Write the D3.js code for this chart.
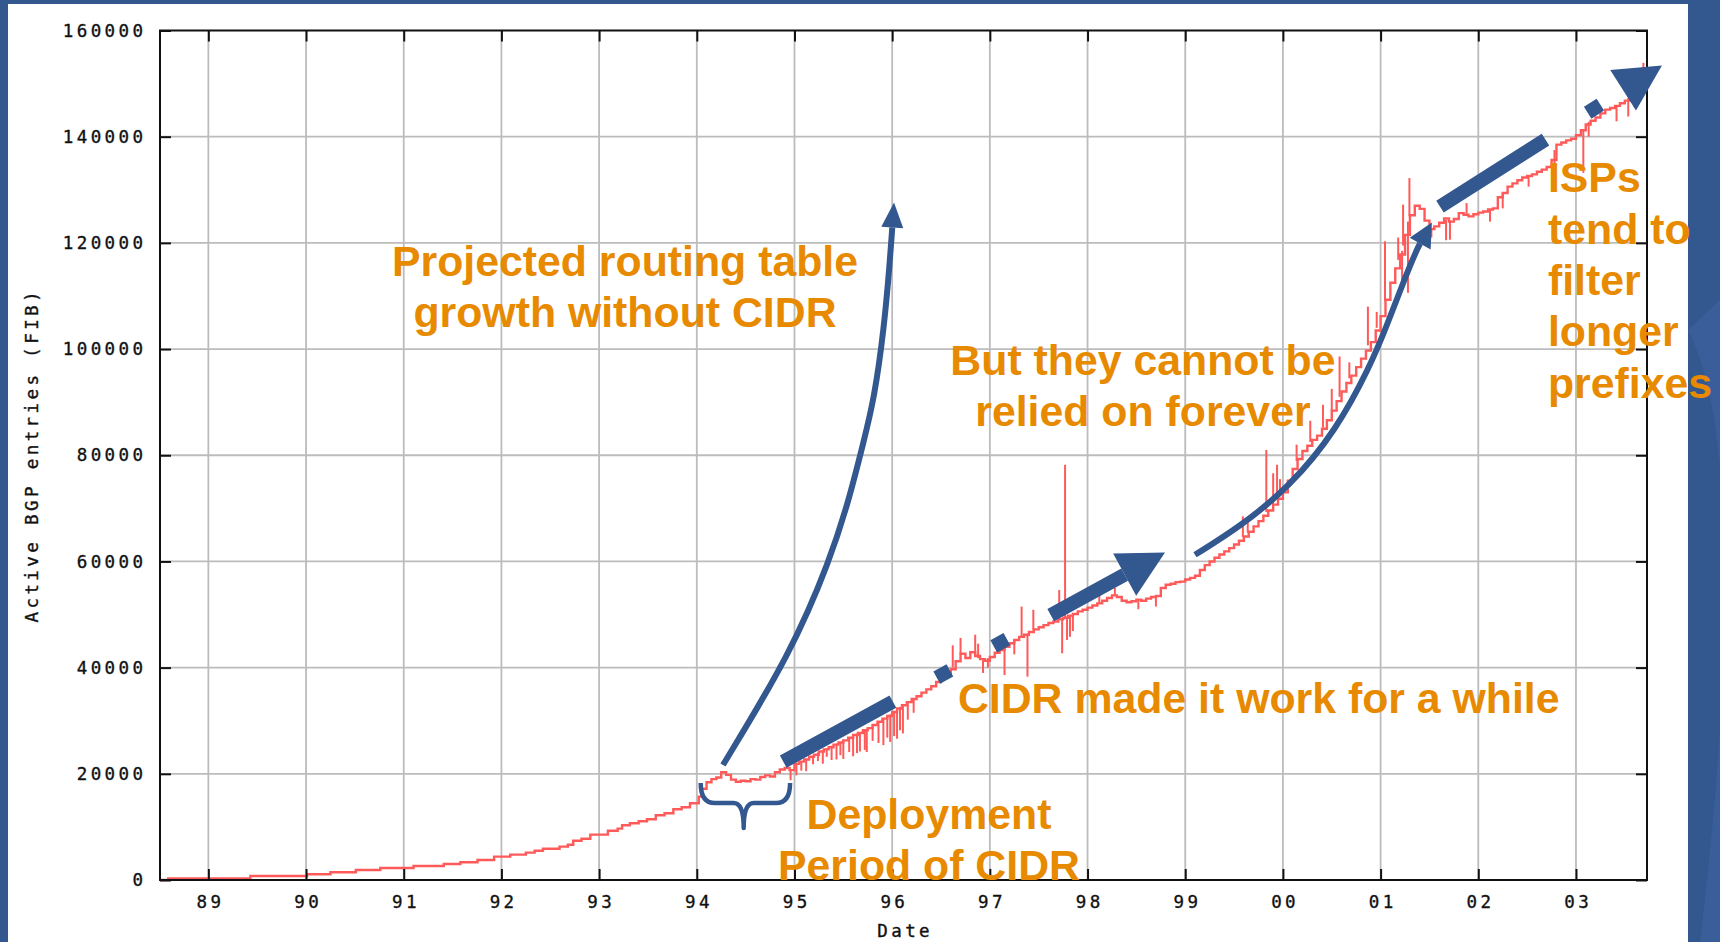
<!DOCTYPE html>
<html><head><meta charset="utf-8">
<script src="https://cdn.jsdelivr.net/npm/d3@7"></script>
<style>
html,body{margin:0;padding:0;background:#33578f;overflow:hidden}
svg{display:block}
</style>
</head><body>
<svg id="chart" width="1720" height="942"></svg>
<script>
// ---------------- DATA ----------------
const yearTicks = [1989,1990,1991,1992,1993,1994,1995,1996,1997,1998,1999,2000,2001,2002,2003];
const yearTickLabels = ["89","90","91","92","93","94","95","96","97","98","99","00","01","02","03"];
const valueTicks = [0,20000,40000,60000,80000,100000,120000,140000,160000];
const valueTickLabels = ["0","20000","40000","60000","80000","100000","120000","140000","160000"];

// early period: step growth (decimal year, active BGP entries)
const stepSeries = [
 [1988.505,0],[1988.59,300],[1989.43,750],[1990.01,1070],[1990.25,1450],[1990.51,1880],
 [1990.76,2260],[1991.10,2640],[1991.41,3020],[1991.58,3330],[1991.755,3770],[1991.925,4400],
 [1992.09,4770],[1992.25,5150],[1992.34,5520],[1992.425,5900],[1992.595,6280],[1992.68,6650],
 [1992.735,7400],[1992.82,7780],[1992.91,8540],[1993.09,9290],[1993.19,9670],[1993.235,10300],
 [1993.315,10680],[1993.405,11060],[1993.49,11440],[1993.58,12190],[1993.67,12570],[1993.76,13320],
 [1993.845,13700],[1993.93,14450],[1994.02,15700]
];

// later period: sampled table size
const bgpSeries = [
 [1994.05,17200],[1994.10,18400],[1994.15,19000],[1994.20,19300],[1994.25,20300],[1994.30,19800],
 [1994.35,18900],[1994.40,18500],[1994.45,18700],[1994.50,18600],[1994.55,19000],[1994.60,18900],
 [1994.65,19400],[1994.70,19700],[1994.75,19500],[1994.80,20300],[1994.85,20800],[1994.90,21100],
 [1994.95,20700],[1995.00,21900],[1995.05,22300],[1995.10,22700],[1995.15,23200],[1995.20,23600],
 [1995.25,24200],[1995.30,24600],[1995.35,25000],[1995.40,25500],[1995.45,25900],[1995.50,26300],
 [1995.55,26800],[1995.60,27300],[1995.65,27700],[1995.70,28200],[1995.75,28600],[1995.80,29200],
 [1995.85,29800],[1995.90,30400],[1995.95,30900],[1996.00,31600],[1996.05,32300],[1996.10,32900],
 [1996.15,33500],[1996.20,34100],[1996.25,34600],[1996.30,35300],[1996.35,35900],[1996.40,36500],
 [1996.45,37300],[1996.50,38000],[1996.55,38900],[1996.60,39700],[1996.65,41200],[1996.70,42600],
 [1996.75,41800],[1996.80,42900],[1996.85,42200],[1996.90,41600],[1996.95,41300],[1997.00,42000],
 [1997.05,42800],[1997.10,43300],[1997.15,43900],[1997.20,44600],[1997.25,45200],[1997.30,45800],
 [1997.35,46200],[1997.40,46700],[1997.45,47200],[1997.50,47600],[1997.55,48000],[1997.60,48400],
 [1997.65,48700],[1997.70,49100],[1997.75,49400],[1997.80,49800],[1997.85,50100],[1997.90,50600],
 [1997.95,50900],[1998.00,51300],[1998.05,51700],[1998.10,52100],[1998.15,52600],[1998.20,53100],
 [1998.25,53600],[1998.30,53300],[1998.35,52600],[1998.40,52300],[1998.45,52500],[1998.50,52800],
 [1998.55,52600],[1998.60,53000],[1998.65,53300],[1998.70,53500],[1998.75,55000],[1998.80,55600],
 [1998.85,55800],[1998.90,56100],[1998.95,56200],[1999.00,56600],[1999.05,56900],[1999.10,57300],
 [1999.15,58400],[1999.20,59300],[1999.25,60000],[1999.30,60700],[1999.35,61300],[1999.40,61900],
 [1999.45,62500],[1999.50,63200],[1999.55,63900],[1999.60,64700],[1999.65,65600],[1999.70,66600],
 [1999.75,67600],[1999.80,68600],[1999.85,69600],[1999.90,70700],[1999.95,71800],[2000.00,73000],
 [2000.05,75200],[2000.10,77400],[2000.15,79300],[2000.20,80800],[2000.25,81800],[2000.30,82900],
 [2000.35,83700],[2000.40,85000],[2000.45,86600],[2000.50,88400],[2000.55,90200],[2000.60,92000],
 [2000.65,93600],[2000.70,95000],[2000.75,96600],[2000.80,98200],[2000.85,99700],[2000.90,101300],
 [2000.95,103500],[2001.00,106200],[2001.05,109300],[2001.10,112500],[2001.15,115200],[2001.20,117800],
 [2001.25,121500],[2001.30,125200],[2001.35,127000],[2001.40,126400],[2001.45,124200],[2001.50,122600],
 [2001.55,123100],[2001.60,123800],[2001.65,124600],[2001.70,124000],[2001.75,124500],[2001.80,125600],
 [2001.85,125300],[2001.90,125000],[2001.95,125400],[2002.00,125700],[2002.05,125900],[2002.10,126300],
 [2002.15,126500],[2002.20,128600],[2002.25,129400],[2002.30,130600],[2002.35,131200],[2002.40,131800],
 [2002.45,132300],[2002.50,132600],[2002.55,132900],[2002.60,133400],[2002.65,133800],[2002.70,134300],
 [2002.75,135600],[2002.80,138500],[2002.85,138900],[2002.90,139300],[2002.95,139600],[2003.00,140300],
 [2003.05,141200],[2003.10,142300],[2003.15,143000],[2003.20,143600],[2003.25,144400],[2003.30,145100],
 [2003.35,145400],[2003.40,145800],[2003.45,146300],[2003.50,146800],[2003.55,147500],[2003.60,148600],
 [2003.65,150400],[2003.70,151200],[2003.72,151500]
];

// short-lived outliers: [year, from, to]
const spikes = [
 [1994.96,20800,18800],[1995.02,21900,19700],[1995.07,22400,20600],
 [1995.12,22800,20500],[1995.19,23400,21800],[1995.24,24000,22400],[1995.29,24400,21900],
 [1995.33,24800,23200],[1995.38,25300,22600],[1995.43,25700,22700],[1995.47,26000,23500],
 [1995.50,26300,22800],[1995.56,26800,24100],[1995.60,27300,23300],[1995.64,27600,23900],
 [1995.67,27800,24200],[1995.72,28300,24500],[1995.74,28500,24100],[1995.80,29200,26200],
 [1995.86,29800,25800],[1995.91,30400,25400],[1995.95,30900,26800],[1995.98,31200,26000],
 [1996.02,31900,27100],[1996.05,32300,26600],[1996.08,32600,28200],[1996.11,32900,27600],
 [1996.16,33500,30200],[1996.22,34200,31500],
 [1996.62,40000,44200],[1996.70,42600,45600],[1996.85,42200,46200],[1996.88,41800,44500],
 [1996.93,41400,39000],[1996.98,41800,40000],[1997.15,43900,38600],
 [1997.25,45200,42500],[1997.325,45900,51500],[1997.385,46400,38300],[1997.445,47100,50900],
 [1997.71,49100,54600],[1997.74,49300,42700],[1997.77,49500,78200],[1997.79,49600,45200],
 [1997.82,49900,45800],[1997.85,50100,46900],
 [1998.12,52200,54300],[1998.28,53500,55000],[1998.52,52800,51000],[1998.70,53500,51500],
 [1999.59,64600,68500],[1999.64,65400,67800],[1999.83,69300,81000],[1999.90,70700,76600],
 [1999.94,71600,78200],[1999.97,72300,75500],
 [2000.14,78900,82000],[2000.28,82500,86500],[2000.41,85200,89500],[2000.50,88400,92500],
 [2000.58,91000,98600],[2000.68,94500,97500],[2000.87,100700,108000],[2000.96,104000,107000],
 [2001.045,109000,120300],[2001.18,116800,121000],[2001.22,118500,112000],[2001.23,119500,127200],
 [2001.28,124000,110600],[2001.295,125000,132200],
 [2001.52,122800,121000],[2001.67,124300,120500],[2001.71,124200,120600],[2001.88,125200,127500],
 [2002.12,126400,124000],[2002.25,129300,126500],[2002.515,132700,130600],[2002.78,137500,134200],
 [2003.075,141300,133200],[2003.13,142800,140000],[2003.415,145700,142900],[2003.535,147300,143800],
 [2003.60,148600,145500],[2003.69,151000,153900]
];

// annotation geometry in data space (decimal year, entries)
const projectedArrow = [[1994.268,21670],[1994.964,42780],[1995.364,60300],[1995.558,71600],
 [1995.712,82900],[1995.814,90460],[1995.917,103840],[1995.978,116850],[1996.019,127590]];
const cidrArrow = [[1994.885,22295],[1998.793,61680]];
const reliedArrow = [[1999.10,61250],[1999.56,66530],[2000.07,74060],[2000.55,84810],
 [2000.89,96680],[2001.06,104220],[2001.23,112510],[2001.37,118730],[2001.525,123820]];
const filterArrow = [[2001.608,126830],[2003.88,153400]];
const brace = {left:1994.04, right:1994.955, mid:1994.48, top:18280, flat:14510, tip:9800};

const labels = [
 {lines:["Projected routing table","growth without CIDR"], x:1993.265, y:113830, anchor:"middle"},
 {lines:["But they cannot be","relied on forever"], x:1998.567, y:95200, anchor:"middle"},
 {lines:["CIDR made it work for a while"], x:1996.673, y:31530, anchor:"start"},
 {lines:["Deployment","Period of CIDR"], x:1996.377, y:9610, anchor:"middle"},
 {lines:["ISPs","tend to","filter","longer","prefixes"], x:2002.713, y:129500, anchor:"start"}
];

// ---------------- DRAW ----------------
const W = 1720, H = 942;
const BLUE = "#33578f", ORANGE = "#e88a00", RED = "#ff5a5a", GRID = "#bcbcbc";
const svg = d3.select("#chart");

// slide background
svg.append("rect").attr("width",W).attr("height",H).attr("fill",BLUE);
svg.append("path")
  .attr("d","M1688,330 C1735,420 1735,650 1700,942 L1720,942 L1720,300 Z")
  .attr("fill","#4068a6").attr("opacity",0.45);
svg.append("rect").attr("x",8).attr("y",4).attr("width",1680).attr("height",H-4).attr("fill","#fff");

const x = d3.scaleLinear().domain([1988.505, 2003.727]).range([160, 1647]);
const y = d3.scaleLinear().domain([0, 160000]).range([880, 30.5]);
const [x0,x1] = x.range(), [y0,y1] = y.range();

// grid
const grid = svg.append("g").attr("stroke",GRID).attr("stroke-width",1.8);
grid.selectAll("line.v").data(yearTicks).join("line")
  .attr("x1",d=>x(d)).attr("x2",d=>x(d)).attr("y1",y0).attr("y2",y1);
grid.selectAll("line.h").data(valueTicks.slice(1,-1)).join("line")
  .attr("x1",x0).attr("x2",x1).attr("y1",d=>y(d)).attr("y2",d=>y(d));

// data line
const lineGen = d3.line().x(d=>x(d[0])).y(d=>y(d[1])).curve(d3.curveStepAfter);
svg.append("path").datum(stepSeries.concat(bgpSeries))
  .attr("d",lineGen).attr("fill","none").attr("stroke",RED).attr("stroke-width",2.4);
svg.append("g").attr("stroke",RED).attr("stroke-width",2)
  .selectAll("line").data(spikes).join("line")
  .attr("x1",d=>x(d[0])).attr("x2",d=>x(d[0])).attr("y1",d=>y(d[1])).attr("y2",d=>y(d[2]));

// axes
const MONO = "'DejaVu Sans Mono', monospace";
const tickFont = g => g.selectAll("text")
  .attr("font-family",MONO).attr("font-size",17.5)
  .attr("letter-spacing","3.4px").attr("fill","#111")
  .attr("stroke","#111").attr("stroke-width",0.35);
const cleanAxis = g => { g.select(".domain").remove(); g.selectAll(".tick line").attr("stroke","#111").attr("stroke-width",2); };

svg.append("g").attr("transform",`translate(0,${y0})`)
  .call(d3.axisBottom(x).tickValues(yearTicks).tickFormat((d,i)=>yearTickLabels[i]).tickSizeInner(-11).tickSizeOuter(0).tickPadding(16))
  .call(cleanAxis).call(tickFont)
  .call(g=>g.selectAll("text").attr("dx","1.7px"));
svg.append("g").attr("transform",`translate(0,${y1})`)
  .call(d3.axisTop(x).tickValues(yearTicks).tickFormat("").tickSizeInner(-11).tickSizeOuter(0))
  .call(cleanAxis);
svg.append("g").attr("transform",`translate(${x0},0)`)
  .call(d3.axisLeft(y).tickValues(valueTicks).tickFormat((d,i)=>valueTickLabels[i]).tickSizeInner(-11).tickSizeOuter(0).tickPadding(13.6))
  .call(cleanAxis).call(tickFont);
svg.append("g").attr("transform",`translate(${x1},0)`)
  .call(d3.axisRight(y).tickValues(valueTicks).tickFormat("").tickSizeInner(-11).tickSizeOuter(0))
  .call(cleanAxis);

svg.append("rect").attr("x",x0).attr("y",y1).attr("width",x1-x0).attr("height",y0-y1)
  .attr("fill","none").attr("stroke","#111").attr("stroke-width",2);

svg.append("text").text("Date").attr("x",(x0+x1)/2 + 1.7).attr("y",937).attr("text-anchor","middle")
  .attr("font-family",MONO).attr("font-size",17.5)
  .attr("letter-spacing","3.4px").attr("fill","#111").attr("stroke","#111").attr("stroke-width",0.35);
svg.append("text").text("Active BGP entries (FIB)")
  .attr("transform",`translate(38,${(y0+y1)/2}) rotate(-90)`).attr("text-anchor","middle")
  .attr("font-family",MONO).attr("font-size",17.5)
  .attr("letter-spacing","3.4px").attr("fill","#111").attr("stroke","#111").attr("stroke-width",0.35);

// annotations
function drawArrow(pts, o){
  const P = pts.map(d=>[x(d[0]), y(d[1])]);
  const tip = P[P.length-1], prev = P[P.length-2];
  let dx = tip[0]-prev[0], dy = tip[1]-prev[1];
  const L = Math.hypot(dx,dy); dx/=L; dy/=L;
  const base = [tip[0]-dx*o.headLen, tip[1]-dy*o.headLen];
  const shaft = P.slice(0,-1).concat([base]);
  const p = svg.append("path").attr("d", d3.line().curve(o.curve)(shaft))
    .attr("fill","none").attr("stroke",BLUE).attr("stroke-width",o.width)
    .attr("stroke-linecap","butt");
  if (o.dash) p.attr("stroke-dasharray",o.dash);
  const nx = -dy, ny = dx, w = o.headWidth/2;
  svg.append("path").attr("fill",BLUE)
    .attr("d",`M${tip[0]},${tip[1]}L${base[0]+nx*w},${base[1]+ny*w}L${base[0]-nx*w},${base[1]-ny*w}Z`);
}
drawArrow(projectedArrow,{curve:d3.curveBasis, width:6, headLen:25, headWidth:22});
drawArrow(reliedArrow,{curve:d3.curveBasis, width:6, headLen:24, headWidth:24});
drawArrow(cidrArrow,{curve:d3.curveLinear, width:14, headLen:46, headWidth:48, dash:"125 50 15 50 15 50"});
drawArrow(filterArrow,{curve:d3.curveLinear, width:14, headLen:46, headWidth:48, dash:"125 50 15 50 15 50"});

// brace
{
  const L = x(brace.left), R = x(brace.right), M = x(brace.mid);
  const T = y(brace.top), F = y(brace.flat), P = y(brace.tip);
  const d = `M${L},${T} Q${L},${F} ${L+14},${F} L${M-10},${F} Q${M},${F} ${M},${P} Q${M},${F} ${M+10},${F} L${R-14},${F} Q${R},${F} ${R},${T}`;
  svg.append("path").attr("d",d).attr("fill","none").attr("stroke",BLUE).attr("stroke-width",4.5).attr("stroke-linejoin","round");
}

// text labels
labels.forEach(l=>{
  const t = svg.append("text").attr("x",x(l.x)).attr("y",y(l.y)).attr("text-anchor",l.anchor)
    .attr("font-family","'Liberation Sans', Arial, sans-serif").attr("font-weight","bold")
    .attr("font-size",42.8).attr("fill",ORANGE);
  l.lines.forEach((s,i)=>t.append("tspan").attr("x",x(l.x)).attr("dy",i?51.3:0).text(s));
});
</script>
</body></html>
